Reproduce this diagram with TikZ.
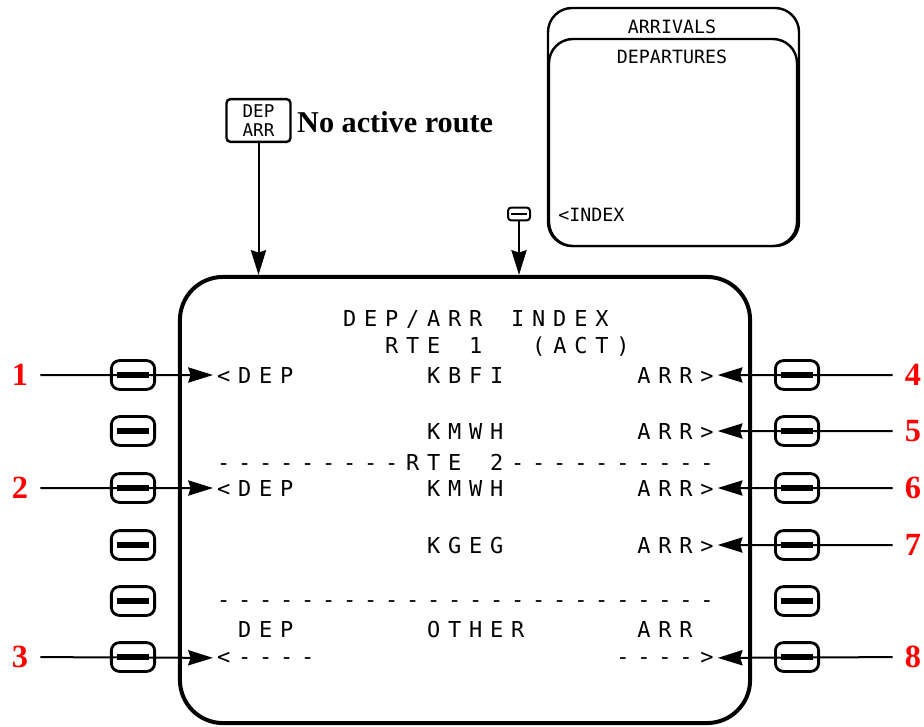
\documentclass[tikz,border=0pt]{standalone}
\usepackage{fontspec}
\setmainfont{Liberation Serif}
\newfontfamily\cdufont{DejaVu Sans Mono}
\usepackage{tikz}
\usetikzlibrary{arrows.meta, positioning}

% one fixed cell per character, as on the CDU
\newcommand\cduline[1]{\cdunext#1\relax}
\def\cdunext#1{\ifx\relax#1\else\makebox[5.25mm]{#1}\expandafter\cdunext\fi}

\tikzstyle{screen} = [rectangle, rounded corners=1.075cm, minimum width=14.25cm, minimum height=11.15cm, draw=black, line width=0.1cm]
\tikzstyle{lsk} = [rectangle, rounded corners=0.2cm, minimum width=1.08cm, minimum height=0.72cm, draw=black, line width=0.07cm, fill=white, path picture={\draw[line width=0.13cm] ([xshift=-0.41cm]path picture bounding box.center) -- ([xshift=0.41cm]path picture bounding box.center);}]
\tikzstyle{minikey} = [rectangle, rounded corners=0.08cm, minimum width=0.55cm, minimum height=0.32cm, draw=black, line width=0.05cm, fill=white, path picture={\draw[line width=0.04cm] ([xshift=-0.2cm]path picture bounding box.center) -- ([xshift=0.2cm]path picture bounding box.center);}]
\tikzstyle{depkey} = [rectangle, rounded corners=0.1cm, minimum width=1.6cm, minimum height=1.07cm, draw=black, line width=0.06cm, fill=white, align=center, inner sep=1pt, font=\cdufont\fontsize{12.5pt}{14pt}\selectfont]
\tikzstyle{page} = [rounded corners=0.6cm, draw=black, line width=0.06cm, fill=white]
\tikzstyle{pagetext} = [inner sep=0, font=\cdufont\fontsize{13pt}{15pt}\selectfont]
\tikzstyle{cdurow} = [anchor=base west, inner sep=0, font=\cdufont\fontsize{15.6pt}{18pt}\selectfont]
\tikzstyle{num} = [text=red, inner sep=0.3cm, font=\bfseries\fontsize{23pt}{26pt}\selectfont]
\tikzstyle{note} = [inner sep=0, font=\bfseries\fontsize{21.5pt}{24pt}\selectfont]
\tikzstyle{arrow} = [line width=0.05cm, -{Stealth[length=0.62cm, width=0.38cm, inset=0.06cm]}]

\begin{document}
\begin{tikzpicture}[x=0.025cm, y=-0.025cm]
\useasboundingbox (0,0) rectangle (924,727);

% departures / arrivals pages
\draw [page] (548,8) rectangle (799,246);
\draw [page] (549,39) rectangle (797,246);
\node (arrtitle) [pagetext] at (672,27) {ARRIVALS};
\node (deptitle) [pagetext] at (672,57) {DEPARTURES};
\node (index) [pagetext, anchor=west] at (558,215) {<INDEX};

% keys above the screen
\node (depkey) [depkey] at (258.5,120.5) {DEP\\ARR};
\node (noroute) [note, right=0.13cm of depkey, yshift=-0.05cm] {No active route};
\node (lskicon) [minikey] at (519,214) {};

\node (cdu) [screen] at (465,500) {};

% screen lines
\node (title) [cdurow] at (213,326) {\cduline{~~~~~~DEP/ARR~INDEX}};
\node (rte1) [cdurow] at (213,353) {\cduline{~~~~~~~~RTE~1~~(ACT)}};
\node (r1) [cdurow] at (213,383) {\cduline{<DEP~~~~~~KBFI~~~~~~ARR>}};
\node (r2) [cdurow] at (213,439) {\cduline{~~~~~~~~~~KMWH~~~~~~ARR>}};
\node (rte2) [cdurow] at (213,470) {\cduline{---------RTE~2----------}};
\node (r3) [cdurow] at (213,496) {\cduline{<DEP~~~~~~KMWH~~~~~~ARR>}};
\node (r4) [cdurow] at (213,553) {\cduline{~~~~~~~~~~KGEG~~~~~~ARR>}};
\node (sep) [cdurow] at (213,607) {\cduline{------------------------}};
\node (r5) [cdurow] at (213,637) {\cduline{~DEP~~~~~~OTHER~~~~~ARR}};
\node (r6) [cdurow] at (213,664) {\cduline{<----~~~~~~~~~~~~~~---->}};

% line select keys
\node (l1) [lsk] at (133,375) {};
\node (l2) [lsk] at (133,431) {};
\node (l3) [lsk] at (133,488) {};
\node (l4) [lsk] at (133,545) {};
\node (l5) [lsk] at (133,601) {};
\node (l6) [lsk] at (133,657) {};
\node (k1) [lsk] at (797,375) {};
\node (k2) [lsk] at (797,431) {};
\node (k3) [lsk] at (797,488) {};
\node (k4) [lsk] at (797,545) {};
\node (k5) [lsk] at (797,601) {};
\node (k6) [lsk] at (797,657) {};

% callouts
\node (n1) [num] at (20,375) {1};
\node (n2) [num] at (20,488) {2};
\node (n3) [num] at (20,657) {3};
\node (n4) [num] at (913,375) {4};
\node (n5) [num] at (913,431) {5};
\node (n6) [num] at (913,488) {6};
\node (n7) [num] at (913,545) {7};
\node (n8) [num] at (913,657) {8};

\draw [arrow] (depkey) -- (depkey.south |- cdu.north);
\draw [arrow] (lskicon) -- (lskicon.south |- cdu.north);

\draw [arrow] (n1) -- (r1.west);
\draw [arrow] (n2) -- (r3.west);
\draw [arrow] (n3) -- (r6.west);
\draw [arrow] (n4) -- (r1.east);
\draw [arrow] (n5) -- (r2.east);
\draw [arrow] (n6) -- (r3.east);
\draw [arrow] (n7) -- (r4.east);
\draw [arrow] (n8) -- (r6.east);

\end{tikzpicture}
\end{document}
